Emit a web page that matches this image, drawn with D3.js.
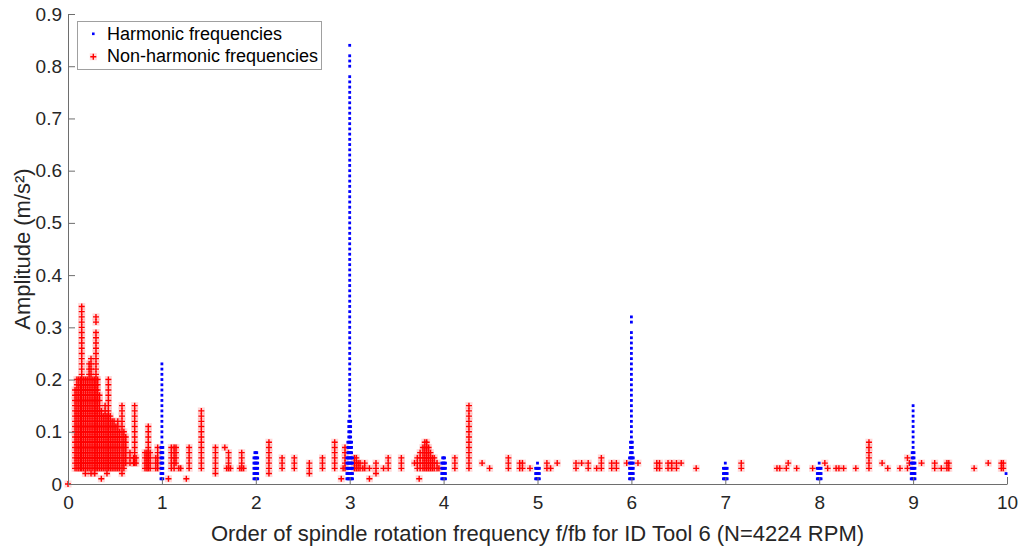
<!DOCTYPE html>
<html>
<head>
<meta charset="utf-8">
<script src="https://cdn.jsdelivr.net/npm/d3@7"></script>
<style>
  html, body { margin: 0; padding: 0; background: #fff; }
  svg { display: block; font-family: "Liberation Sans", Arial, sans-serif; }
</style>
</head>
<body>
<svg id="chart" width="1024" height="547"></svg>
<script>
// ---- Data ----
// Each column: [order f/fb, lowest amplitude, highest amplitude] in hundredths of m/s²;
// the spectrum amplitudes are quantised to 0.01, every step of a column holds a peak.
const harmonicColumns = [
  [1.00, 1, 23], [0.99, 1, 7], [1.01, 1, 7],
  [2.00, 1, 6], [1.99, 1, 6], [2.01, 1, 6], [1.98, 1, 5], [2.02, 1, 5],
  [3.00, 1, 78], [3.00, 80, 82], [3.00, 84, 84],
  [2.99, 1, 12], [3.01, 1, 12], [2.98, 1, 8], [3.02, 1, 8], [2.97, 1, 5], [3.03, 1, 5],
  [4.00, 1, 5], [3.99, 1, 5], [4.01, 1, 5], [3.98, 1, 4], [4.02, 1, 4],
  [5.00, 1, 4], [4.99, 1, 3], [5.01, 1, 3], [4.98, 1, 3], [5.02, 1, 3],
  [6.00, 1, 29], [6.00, 31, 32], [5.99, 1, 8], [6.01, 1, 8], [5.98, 1, 5], [6.02, 1, 5],
  [7.00, 1, 4], [6.99, 1, 3], [7.01, 1, 3], [6.98, 1, 3], [7.02, 1, 3],
  [8.00, 1, 4], [7.99, 1, 3], [8.01, 1, 3], [7.98, 1, 3], [8.02, 1, 3],
  [9.00, 1, 15], [8.99, 1, 6], [9.01, 1, 6], [8.98, 1, 4], [9.02, 1, 4],
  [9.99, 2, 2]
];

const nonHarmonicColumns = [
  [0.00, 0, 0],
  [0.075, 3, 18], [0.095, 3, 20], [0.115, 3, 20], [0.135, 3, 20], [0.146, 3, 34],
  [0.165, 3, 20], [0.185, 2, 20], [0.205, 3, 20], [0.225, 3, 23], [0.245, 2, 24],
  [0.265, 3, 20], [0.285, 2, 20], [0.298, 3, 29], [0.298, 31, 32], [0.315, 3, 20],
  [0.335, 3, 17], [0.355, 1, 1], [0.355, 3, 14], [0.375, 3, 13], [0.395, 3, 15],
  [0.415, 2, 13], [0.43, 3, 20], [0.45, 3, 13], [0.47, 3, 12], [0.49, 3, 12],
  [0.51, 3, 11], [0.53, 3, 12], [0.55, 3, 10], [0.575, 2, 15], [0.595, 3, 10],
  [0.615, 4, 9], [0.66, 4, 6],
  [0.70, 4, 5], [0.71, 4, 15], [0.725, 4, 5],
  [0.82, 3, 6], [0.84, 3, 6], [0.855, 3, 11], [0.875, 3, 6],
  [0.935, 3, 5], [0.955, 3, 7],
  [1.07, 1, 1], [1.10, 3, 7], [1.13, 3, 7], [1.15, 4, 7], [1.18, 3, 3], [1.20, 3, 3],
  [1.26, 1, 1], [1.29, 3, 7], [1.42, 3, 14], [1.57, 2, 7], [1.67, 7, 7],
  [1.69, 3, 3], [1.71, 3, 6], [1.73, 3, 3],
  [1.83, 3, 3], [1.85, 3, 6], [1.87, 3, 3],
  [2.14, 2, 8], [2.28, 3, 5], [2.41, 3, 5], [2.57, 2, 4], [2.71, 3, 5],
  [2.84, 3, 8], [2.91, 1, 1], [2.93, 3, 3], [2.95, 3, 7],
  [3.05, 3, 5], [3.07, 3, 5], [3.09, 3, 4], [3.11, 3, 4], [3.14, 3, 3], [3.16, 3, 4],
  [3.21, 1, 1], [3.21, 3, 3], [3.28, 2, 4], [3.36, 3, 3], [3.41, 3, 5], [3.55, 3, 5],
  [3.69, 4, 4], [3.72, 3, 5], [3.74, 1, 1], [3.75, 3, 6], [3.78, 3, 7], [3.80, 3, 8],
  [3.82, 3, 8], [3.84, 3, 7], [3.86, 3, 6], [3.88, 3, 5], [3.90, 3, 5], [3.93, 3, 4],
  [3.95, 3, 3],
  [4.12, 3, 5], [4.27, 3, 15], [4.41, 4, 4], [4.49, 3, 3], [4.69, 3, 5],
  [4.81, 3, 4], [4.84, 3, 4], [4.92, 3, 3],
  [5.10, 3, 4], [5.14, 3, 3], [5.21, 4, 4], [5.41, 3, 4], [5.47, 4, 4], [5.54, 3, 4],
  [5.63, 3, 3], [5.68, 3, 5], [5.79, 3, 4], [5.84, 3, 4], [5.95, 4, 4], [6.07, 4, 4],
  [6.27, 3, 4], [6.30, 3, 4], [6.39, 3, 4], [6.43, 3, 4], [6.48, 3, 4],
  [6.53, 4, 4], [6.69, 3, 3], [7.17, 3, 4],
  [7.55, 3, 3], [7.58, 3, 3], [7.65, 3, 3], [7.67, 4, 4], [7.76, 3, 3], [7.93, 3, 3],
  [8.06, 4, 4], [8.09, 3, 3], [8.18, 3, 3], [8.21, 3, 3], [8.26, 3, 3], [8.39, 3, 3],
  [8.53, 3, 8], [8.67, 4, 4], [8.73, 3, 3], [8.86, 3, 3], [8.94, 3, 3], [8.94, 5, 5],
  [8.96, 4, 4],
  [9.09, 4, 4], [9.23, 3, 4], [9.30, 3, 3], [9.36, 3, 4], [9.38, 3, 4],
  [9.65, 3, 3], [9.80, 4, 4], [9.94, 3, 4], [9.96, 3, 4]
];

const xTicks = [0, 1, 2, 3, 4, 5, 6, 7, 8, 9, 10];
const yTicks = [0, 0.1, 0.2, 0.3, 0.4, 0.5, 0.6, 0.7, 0.8, 0.9];
const legendLabels = ["Harmonic frequencies", "Non-harmonic frequencies"];
const xLabel = "Order of spindle rotation frequency f/fb for ID Tool 6 (N=4224 RPM)";
const yLabel = "Amplitude (m/s²)";

// expand columns into individual (x, amplitude) peaks
function toPoints(cols) {
  const pts = [];
  cols.forEach(([xv, lo, hi]) => {
    for (let k = lo; k <= hi; k++) pts.push({ x: xv, y: k / 100 });
  });
  return pts;
}
const harmonicPts = toPoints(harmonicColumns);
const nonHarmonicPts = toPoints(nonHarmonicColumns);

// ---- Layout ----
const svg = d3.select("#chart");
const L = 68, R = 1007, T = 14, B = 484;
const x = d3.scaleLinear().domain([0, 10]).range([L, R]);
const y = d3.scaleLinear().domain([0, 0.9]).range([B, T]);
const textColor = "#262626";
const tickFs = 19, labelFs = 22, legendFs = 18;

// non-harmonic '+' markers
const gRed = svg.append("g");
gRed.selectAll("rect").data(nonHarmonicPts).enter().append("rect")
  .attr("x", d => x(d.x) - 3.5).attr("y", d => y(d.y) - 3.5)
  .attr("width", 7).attr("height", 7)
  .attr("fill", "#ff8080").attr("fill-opacity", 0.3);
gRed.selectAll("path").data(nonHarmonicPts).enter().append("path")
  .attr("d", d => {
    const cx = x(d.x), cy = y(d.y);
    return `M${cx - 3},${cy}H${cx + 3}M${cx},${cy - 3}V${cy + 3}`;
  })
  .attr("stroke", "#ff0000").attr("stroke-width", 1.4).attr("fill", "none");

// harmonic '.' markers
svg.append("g").selectAll("rect").data(harmonicPts).enter().append("rect")
  .attr("x", d => x(d.x) - 1.4).attr("y", d => y(d.y) - 1.4)
  .attr("width", 2.8).attr("height", 2.8)
  .attr("fill", "#0000ff");

// ---- Axes ----
const xAxis = d3.axisBottom(x).tickValues(xTicks).tickFormat(d3.format("d"))
  .tickSizeInner(-7).tickSizeOuter(0).tickPadding(12);
const yAxis = d3.axisLeft(y).tickValues(yTicks).tickFormat(d => d === 0 ? "0" : d3.format(".1f")(d))
  .tickSizeInner(-7).tickSizeOuter(0).tickPadding(6);

const gx = svg.append("g").attr("transform", `translate(0,${B})`).call(xAxis);
const gy = svg.append("g").attr("transform", `translate(${L},0)`).call(yAxis);
[gx, gy].forEach(g => {
  g.select(".domain").attr("stroke", "#6e6e6e").attr("stroke-width", 1);
  g.selectAll(".tick line").attr("stroke", "#6e6e6e");
  g.selectAll(".tick text").attr("fill", textColor)
    .style("font-size", tickFs + "px").style("font-family", "'Liberation Sans', Arial, sans-serif");
});

// axis titles
svg.append("text")
  .attr("x", (L + R) / 2).attr("y", 541)
  .attr("text-anchor", "middle").attr("fill", textColor)
  .style("font-size", labelFs + "px").text(xLabel);
svg.append("text")
  .attr("transform", `translate(30,${(T + B) / 2}) rotate(-90)`)
  .attr("text-anchor", "middle").attr("fill", textColor)
  .style("font-size", labelFs + "px").text(yLabel);

// ---- Legend ----
const lg = svg.append("g");
lg.append("rect").attr("x", 77.5).attr("y", 21.5).attr("width", 244).attr("height", 48)
  .attr("fill", "#fff").attr("stroke", "#a0a0a0").attr("stroke-width", 1);
lg.append("rect").attr("x", 92).attr("y", 32.5).attr("width", 2.6).attr("height", 2.6).attr("fill", "#0000ff");
lg.append("rect").attr("x", 89.8).attr("y", 53.2).attr("width", 7).attr("height", 7)
  .attr("fill", "#ff8080").attr("fill-opacity", 0.3);
lg.append("path").attr("d", "M90.3,56.7H96.3M93.3,53.7V59.7")
  .attr("stroke", "#ff0000").attr("stroke-width", 1.4);
lg.selectAll("text.lab").data(legendLabels).enter().append("text")
  .attr("x", 107).attr("y", (d, i) => 40 + i * 22)
  .attr("fill", "#000").style("font-size", legendFs + "px").text(d => d);
</script>
</body>
</html>
